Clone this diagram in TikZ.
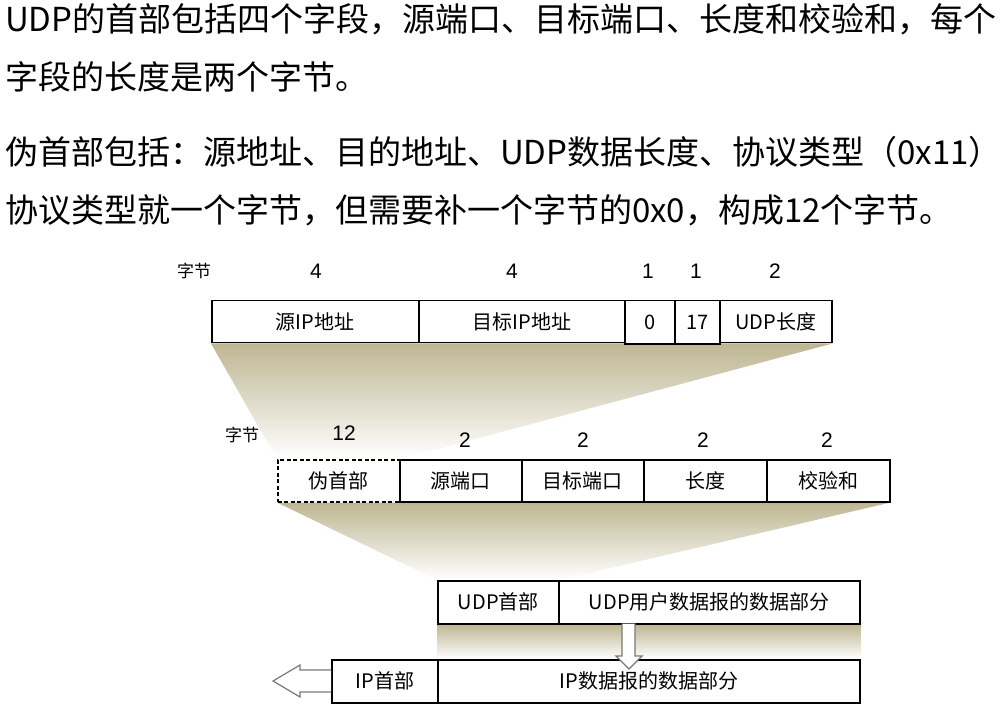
\documentclass[tikz,border=0pt]{standalone}
\usepackage{fontspec}
\setmainfont{Noto Sans CJK SC}
\newfontfamily\digitfont{Liberation Sans}
\usetikzlibrary{calc}
\pgfdeclarelayer{background}
\pgfsetlayers{background,main}
\definecolor{tan}{RGB}{190,182,146}
\definecolor{arrowgray}{RGB}{120,120,120}
\begin{document}
\begin{tikzpicture}[x=1pt,y=-1pt,
  para/.style={anchor=base west, inner sep=0, font=\fontsize{33}{33}\selectfont},
  cell/.style={draw, line width=1.5pt, fill=white, minimum height=42pt,
    inner sep=0, anchor=north west, font=\fontsize{20}{20}\selectfont},
  num/.style={inner sep=0, font=\digitfont\fontsize{21}{21}\selectfont},
  lbl/.style={inner sep=0, font=\fontsize{17}{17}\selectfont},
  hollow/.style={draw=arrowgray, line width=1.2pt, fill=white, line join=miter}]
\useasboundingbox (0,0) rectangle (1002,711);

% explanatory text
\node[para] (t1) at (5,32) {UDP的首部包括四个字段，源端口、目标端口、长度和校验和，每个};
\node[para] (t2) at (5,90) {字段的长度是两个字节。};
\node[para] (t3) at (5,165) {伪首部包括：源地址、目的地址、UDP数据长度、协议类型（0x11）};
\node[para] (t4) at (5,223) {协议类型就一个字节，但需要补一个字节的0x0，构成12个字节。};

% pseudo header fields
\node[lbl] (k1) at (194,271) {字节};
\node[num] (n11) at (316,271) {4};
\node[num] (n12) at (512,271) {4};
\node[num] (n13) at (648,271) {1};
\node[num] (n14) at (696,271) {1};
\node[num] (n15) at (775,271) {2};
\node[cell, minimum width=207pt] (a1) at (211,300) {源IP地址};
\node[cell, minimum width=206pt] (a2) at (418,300) {目标IP地址};
\node[cell, minimum width=50pt, minimum height=43.5pt] (a3) at (624,300) {0};
\node[cell, minimum width=45pt, minimum height=43.5pt] (a4) at (674,300) {17};
\node[cell, minimum width=112pt] (a5) at (719,300) {UDP长度};

% UDP header with pseudo header
\node[lbl] (k2) at (242,435) {字节};
\node[num] (n21) at (344,433) {12};
\node[num] (n22) at (465,440) {2};
\node[num] (n23) at (583,440) {2};
\node[num] (n24) at (703,440) {2};
\node[num] (n25) at (827,440) {2};
\node[cell, minimum width=122pt, dash pattern=on 4pt off 2.5pt] (b1) at (277,459) {伪首部};
\node[cell, minimum width=122pt] (b2) at (399,459) {源端口};
\node[cell, minimum width=122pt] (b3) at (521,459) {目标端口};
\node[cell, minimum width=123pt] (b4) at (643,459) {长度};
\node[cell, minimum width=123pt] (b5) at (766,459) {校验和};

% UDP datagram
\node[cell, minimum width=121pt, minimum height=43pt] (c1) at (437,580) {UDP首部};
\node[cell, minimum width=301pt, minimum height=43pt] (c2) at (558,580) {UDP用户数据报的数据部分};

% IP datagram
\node[cell, minimum width=106pt, minimum height=43pt] (d1) at (331,659) {IP首部};
\node[cell, minimum width=422pt, minimum height=43pt] (d2) at (437,659) {IP数据报的数据部分};

% fading projections between the layers
\begin{pgfonlayer}{background}
  \shade[top color=tan, bottom color=white]
    (a1.south west) -- (a5.south east) -- (b1.north east) -- (b1.north west) -- cycle;
  \shade[top color=tan, bottom color=white]
    (b1.south west) -- (b5.south east) -- (c1.north east) -- (c1.north west) -- cycle;
  \shade[top color=tan, bottom color=white]
    (c1.south west) -- (c2.south east) -- (d2.north east) -- (d2.north west) -- cycle;
\end{pgfonlayer}

% hollow arrows
\draw[hollow] (622,623.5) -- (622,656) -- (616,656) -- (629,669) -- (642,656)
  -- (635,656) -- (635,623.5);
\draw[hollow] (d1.west |- 0,670) -- (300,670) -- (300,665) -- (273,681) -- (300,697)
  -- (300,692) -- (d1.west |- 0,692);
\end{tikzpicture}
\end{document}
